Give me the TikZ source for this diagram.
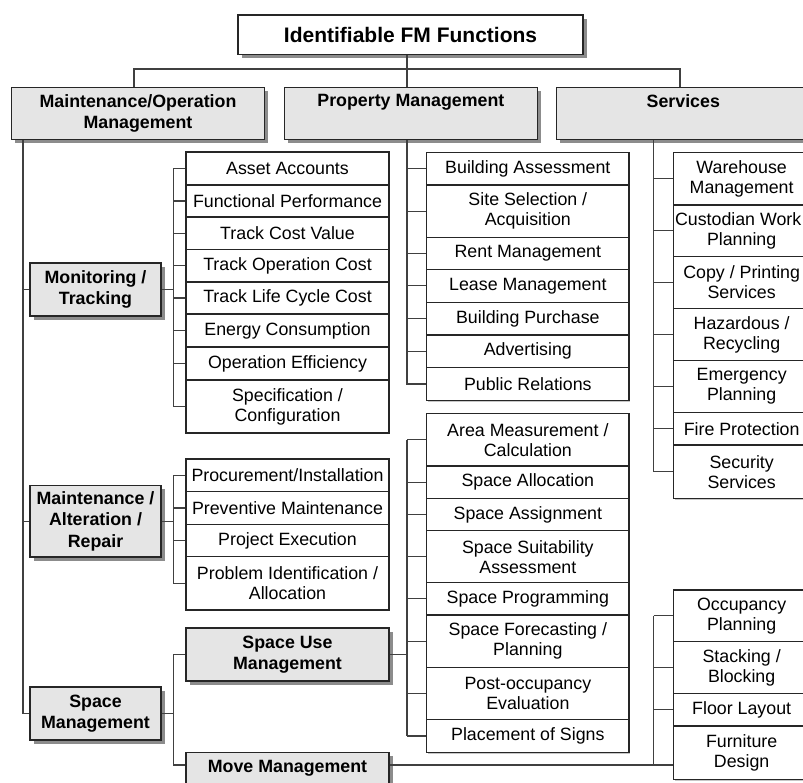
\documentclass[tikz,border=0pt]{standalone}
\usepackage{fontspec}
\setmainfont{Liberation Sans}
\usetikzlibrary{shadows}
\newcommand\fmItemFont{\fontsize{17.8}{20}\selectfont}
\newcommand\fmHeadFont{\bfseries\fontsize{17.8}{21.5}\selectfont}
\newcommand\fmTitleFont{\bfseries\fontsize{21}{24}\selectfont}

\begin{document}
\begin{tikzpicture}[x=1pt,y=-1pt,
  conn/.style={draw=black!75, line width=1.2pt},
  boxline/.style={draw=black!85, line width=1.2pt, inner sep=0pt, align=center},
  wh/.style 2 args={minimum width=#1pt, minimum height=#2pt},
  item/.style={boxline, fill=white, font=\fmItemFont,
    drop shadow={fill=black!22, opacity=1, shadow xshift=1.2pt, shadow yshift=-1.2pt}},
  head/.style={boxline, fill=black!10, font=\fmHeadFont,
    drop shadow={fill=black!45, opacity=1, shadow xshift=3.5pt, shadow yshift=-3.5pt}},
  titlebox/.style={boxline, fill=white, line width=1.5pt, font=\fmTitleFont,
    drop shadow={fill=black!45, opacity=1, shadow xshift=3.5pt, shadow yshift=-3.5pt}},
]
\useasboundingbox (0,0) rectangle (803,782);
\fill[white] (0,0) rectangle (803,782);
\clip (0,0) rectangle (803,782);

% root and first level
\node[titlebox, wh={345}{39.3}] (top) at (410.5,34.65) {Identifiable FM Functions};
\node[head, wh={253.4}{52}] (lmo) at (138,113.3) {Maintenance/Operation\\Management};
\node[head, wh={253.4}{52}] (lpm) at (410.9,113.3) {Property Management\\\vphantom{g}};
\node[head, wh={253.4}{52}] (lsv) at (683.3,113.3) {Services\\\vphantom{g}};

% maintenance / operation branch
\node[head, wh={131}{53}] (mon) at (95.5,289.5) {Monitoring /\\Tracking};
\node[head, wh={131}{71.3}] (mar) at (95.5,521.35) {Maintenance /\\Alteration /\\Repair};
\node[head, wh={131}{53}] (spm) at (95.5,713.5) {Space\\Management};

\node[item, wh={203}{33}]   (a1) at (287.5,168.5)  {Asset Accounts};
\node[item, wh={203}{32}]   (a2) at (287.5,201)    {Functional Performance};
\node[item, wh={203}{32.5}] (a3) at (287.5,233.25) {Track Cost Value};
\node[item, wh={203}{32.5}] (a4) at (287.5,265.75) {Track Operation Cost};
\node[item, wh={203}{32}]   (a5) at (287.5,298)    {Track Life Cycle Cost};
\node[item, wh={203}{33}]   (a6) at (287.5,330.5)  {Energy Consumption};
\node[item, wh={203}{33}]   (a7) at (287.5,363.5)  {Operation Efficiency};
\node[item, wh={203}{53}]   (a8) at (287.5,406.5)  {Specification /\\Configuration};

\node[item, wh={203}{32.7}] (b1) at (287.5,475.35) {Procurement/Installation};
\node[item, wh={203}{32.6}] (b2) at (287.5,508)    {Preventive Maintenance};
\node[item, wh={203}{32.4}] (b3) at (287.5,540.5)  {Project Execution};
\node[item, wh={203}{53.3}] (b4) at (287.5,583.35) {Problem Identification /\\Allocation};

\node[head, wh={203}{53}] (sum) at (287.5,654.5) {Space Use\\Management};
\node[head, wh={203}{53}] (mov) at (287.5,779.2) {Move Management\\\vphantom{g}};

% property management branch
\node[item, wh={202.3}{32.7}] (c1) at (527.85,168.65) {Building Assessment};
\node[item, wh={202.3}{52.3}] (c2) at (527.85,211.15) {Site Selection /\\Acquisition};
\node[item, wh={202.3}{32}]   (c3) at (527.85,253.3)  {Rent Management};
\node[item, wh={202.3}{33}]   (c4) at (527.85,285.8)  {Lease Management};
\node[item, wh={202.3}{32.7}] (c5) at (527.85,318.65) {Building Purchase};
\node[item, wh={202.3}{32.3}] (c6) at (527.85,351.15) {Advertising};
\node[item, wh={202.3}{33.4}] (c7) at (527.85,384)    {Public Relations};

% space use management tasks
\node[item, wh={202.3}{52.7}] (d1) at (527.85,439.65) {Area Measurement /\\Calculation};
\node[item, wh={202.3}{32.3}] (d2) at (527.85,482.15) {Space Allocation};
\node[item, wh={202.3}{32.4}] (d3) at (527.85,514.5)  {Space Assignment};
\node[item, wh={202.3}{52}]   (d4) at (527.85,556.7)  {Space Suitability\\Assessment};
\node[item, wh={202.3}{32.3}] (d5) at (527.85,598.85) {Space Programming};
\node[item, wh={202.3}{52.3}] (d6) at (527.85,641.15) {Space Forecasting /\\Planning};
\node[item, wh={202.3}{52}]   (d7) at (527.85,693.3)  {Post-occupancy\\Evaluation};
\node[item, wh={202.3}{33.4}] (d8) at (527.85,736)    {Placement of Signs};

% services branch
\node[item, wh={136.7}{52.7}] (s1) at (741.65,178.65) {Warehouse\\Management};
\node[item, wh={136.7}{51.7}] (s2) at (741.65,230.85) {\hspace*{-7pt}Custodian Work\\Planning};
\node[item, wh={136.7}{51.6}] (s3) at (741.65,282.5)  {Copy / Printing\\Services};
\node[item, wh={136.7}{52.4}] (s4) at (741.65,334.5)  {Hazardous /\\Recycling};
\node[item, wh={136.7}{52}]   (s5) at (741.65,386.7)  {Emergency\\Planning};
\node[item, wh={136.7}{32.3}] (s6) at (741.65,428.85) {Fire Protection};
\node[item, wh={136.7}{53.3}] (s7) at (741.65,471.65) {Security\\Services};

% move management tasks
\node[item, wh={136.7}{51.7}] (m1) at (741.65,615.85) {Occupancy\\Planning};
\node[item, wh={136.7}{51.6}] (m2) at (741.65,667.5)  {Stacking /\\Blocking};
\node[item, wh={136.7}{32.7}] (m3) at (741.65,709.65) {Floor Layout};
\node[item, wh={136.7}{53.3}] (m4) at (741.65,752.65) {Furniture\\Design};

% root to first level
\coordinate (rt) at ([xshift=-3.5pt]top.south);
\coordinate (jn) at ([yshift=-14pt]rt);
\draw[conn] (rt) -- (jn);
\draw[conn] ([xshift=-4pt]lmo.north) |- (jn) -| ([xshift=-3.3pt]lsv.north);
\draw[conn] (jn) -- ([xshift=-3.9pt]lpm.north);

% maintenance / operation trunk
\coordinate (mt) at ([xshift=12.2pt]lmo.south west);
\draw[conn] (mt) |- (spm.west);
\draw[conn] (mt |- mon.west) -- (mon.west);
\draw[conn] (mt |- mar.west) -- (mar.west);

% monitoring / tracking bracket
\coordinate (bm) at ([xshift=-12pt]a1.west);
\draw[conn] (mon.east) -- (mon.east -| bm);
\draw[conn] (bm |- a1.west) -- (bm |- a8.west);
\foreach \n in {a1,a2,a3,a4,a5,a6,a7,a8} \draw[conn] (bm |- \n.west) -- (\n.west);

% maintenance / alteration / repair bracket
\draw[conn] (mar.east) -- (mar.east -| bm);
\draw[conn] (bm |- b1.west) -- (bm |- b4.west);
\foreach \n in {b1,b2,b3,b4} \draw[conn] (bm |- \n.west) -- (\n.west);

% space management bracket
\coordinate (mvl) at ([yshift=14.2pt]mov.west);
\coordinate (mvr) at ([yshift=14.2pt]mov.east);
\draw[conn] (spm.east) -- (spm.east -| bm);
\draw[conn] (sum.west) -| (bm |- mvl) -- (mvl);

% property management trunk
\coordinate (pt) at ([xshift=-3.9pt]lpm.south);
\draw[conn] (pt) |- (c7.west);
\foreach \n in {c1,c2,c3,c4,c5,c6} \draw[conn] (pt |- \n.west) -- (\n.west);

% space use management bracket
\draw[conn] (sum.east) -- (sum.east -| pt);
\draw[conn] (pt |- d1.west) -- (pt |- d8.west);
\foreach \n in {d1,d2,d3,d4,d5,d6,d7,d8} \draw[conn] (pt |- \n.west) -- (\n.west);

% services trunk
\coordinate (st) at ([xshift=97.7pt]lsv.south west);
\draw[conn] (st) |- (s7.west);
\foreach \n in {s1,s2,s3,s4,s5,s6} \draw[conn] (st |- \n.west) -- (\n.west);

% move management bracket
\coordinate (mb) at ([xshift=-19pt]m1.west);
\draw[conn] (mvr) -- (mvr -| m4.west);
\draw[conn] (mb |- m1.west) -- (mb |- mvr);
\foreach \n in {m1,m2,m3} \draw[conn] (mb |- \n.west) -- (\n.west);
\end{tikzpicture}
\end{document}
